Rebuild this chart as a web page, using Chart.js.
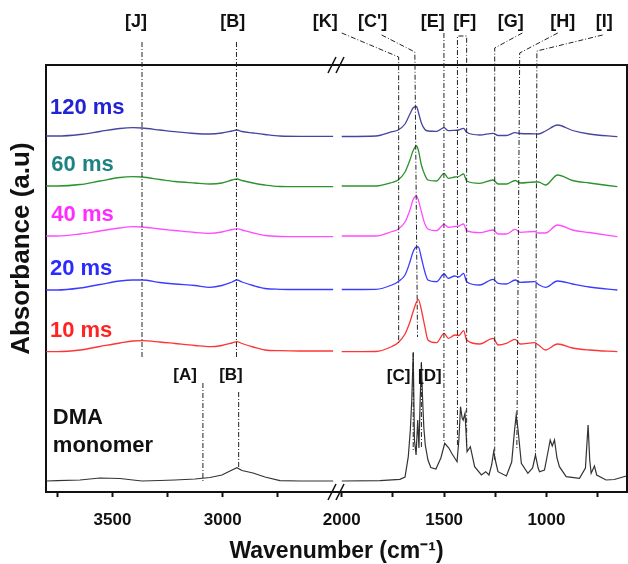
<!DOCTYPE html>
<html>
<head>
<meta charset="utf-8">
<script src="https://cdn.jsdelivr.net/npm/chart.js@4.4.1/dist/chart.umd.min.js"></script>
<style>
  html, body { margin: 0; padding: 0; background: #fff; }
</style>
</head>
<body>
<canvas id="ftir" width="628" height="564"></canvas>
<script>
// wavenumber grids (cm-1), the axis is broken between 2500 and 2000
const wnLeft = [3800, 3750, 3647, 3557, 3466, 3407, 3366, 3285, 3217, 3126, 3058, 3004, 2958, 2936, 2913, 2863, 2809, 2741, 2650, 2500];
const wnRight = [2000, 1833, 1755, 1725, 1691, 1667, 1652, 1635, 1626, 1611, 1594, 1579, 1537, 1500, 1480, 1448, 1428, 1405, 1390, 1326, 1261, 1236, 1196, 1153, 1129, 1058, 1039, 1005, 946, 873, 791, 654];
const wnMonomer = [2000, 1813, 1716, 1691, 1675, 1665, 1658, 1651, 1645, 1637, 1629, 1623, 1617, 1611, 1605, 1599, 1592, 1579, 1565, 1540, 1516, 1497, 1477, 1463, 1437, 1428, 1420, 1412, 1407, 1398, 1388, 1372, 1351, 1318, 1297, 1281, 1268, 1258, 1248, 1237, 1196, 1170, 1156, 1148, 1139, 1123, 1091, 1068, 1054, 1041, 1034, 1010, 993, 982, 972, 961, 949, 937, 904, 839, 810, 797, 789, 782, 766, 755, 709, 669, 610];

// stacked absorbance (a.u), offset spectra as plotted
const abs120Left = [3.56, 3.56, 3.575, 3.605, 3.635, 3.643, 3.64, 3.62, 3.603, 3.585, 3.58, 3.59, 3.61, 3.62, 3.605, 3.59, 3.575, 3.56, 3.557, 3.557];
const abs120Right = [3.555, 3.56, 3.603, 3.62, 3.68, 3.78, 3.84, 3.855, 3.80, 3.69, 3.625, 3.61, 3.607, 3.643, 3.613, 3.617, 3.62, 3.637, 3.597, 3.57, 3.587, 3.565, 3.565, 3.593, 3.585, 3.582, 3.58, 3.61, 3.67, 3.615, 3.58, 3.553];
const abs60Left = [3.06, 3.06, 3.075, 3.11, 3.145, 3.153, 3.15, 3.125, 3.105, 3.09, 3.08, 3.09, 3.12, 3.13, 3.115, 3.09, 3.07, 3.055, 3.053, 3.053];
const abs60Right = [3.06, 3.06, 3.095, 3.12, 3.20, 3.32, 3.41, 3.46, 3.42, 3.27, 3.17, 3.12, 3.11, 3.187, 3.137, 3.15, 3.155, 3.18, 3.11, 3.087, 3.12, 3.08, 3.08, 3.115, 3.09, 3.10, 3.10, 3.07, 3.17, 3.115, 3.09, 3.053];
const abs40Left = [2.56, 2.56, 2.58, 2.61, 2.64, 2.653, 2.65, 2.63, 2.615, 2.595, 2.587, 2.60, 2.625, 2.633, 2.62, 2.59, 2.565, 2.555, 2.553, 2.553];
const abs40Right = [2.56, 2.56, 2.605, 2.627, 2.70, 2.82, 2.92, 2.96, 2.92, 2.803, 2.68, 2.63, 2.613, 2.677, 2.647, 2.655, 2.66, 2.68, 2.613, 2.593, 2.62, 2.58, 2.58, 2.627, 2.597, 2.605, 2.59, 2.59, 2.67, 2.62, 2.595, 2.553];
const abs20Left = [2.02, 2.02, 2.04, 2.075, 2.11, 2.12, 2.12, 2.095, 2.08, 2.065, 2.047, 2.065, 2.10, 2.12, 2.10, 2.065, 2.035, 2.027, 2.025, 2.025];
const abs20Right = [2.025, 2.027, 2.07, 2.103, 2.17, 2.30, 2.40, 2.45, 2.45, 2.34, 2.20, 2.12, 2.103, 2.18, 2.137, 2.16, 2.15, 2.187, 2.103, 2.07, 2.127, 2.087, 2.08, 2.12, 2.097, 2.103, 2.075, 2.047, 2.11, 2.08, 2.05, 2.02];
const abs10Left = [1.403, 1.403, 1.42, 1.455, 1.49, 1.51, 1.513, 1.50, 1.485, 1.465, 1.453, 1.465, 1.49, 1.503, 1.485, 1.45, 1.42, 1.413, 1.41, 1.41];
const abs10Right = [1.403, 1.405, 1.455, 1.493, 1.58, 1.70, 1.80, 1.90, 1.927, 1.82, 1.653, 1.52, 1.493, 1.587, 1.537, 1.57, 1.565, 1.613, 1.52, 1.48, 1.537, 1.47, 1.487, 1.527, 1.48, 1.493, 1.47, 1.42, 1.48, 1.44, 1.42, 1.403];
const monoLeft = [0.11, 0.113, 0.12, 0.14, 0.135, 0.12, 0.11, 0.115, 0.12, 0.13, 0.145, 0.17, 0.22, 0.243, 0.215, 0.19, 0.15, 0.113, 0.11, 0.11];
const monoRight = [0.11, 0.113, 0.127, 0.15, 0.353, 0.62, 0.92, 1.39, 0.52, 0.37, 0.72, 0.44, 0.92, 1.29, 0.92, 0.64, 0.47, 0.32, 0.245, 0.23, 0.34, 0.487, 0.44, 0.387, 0.303, 0.52, 0.853, 0.74, 0.72, 0.787, 0.403, 0.453, 0.253, 0.17, 0.203, 0.17, 0.27, 0.403, 0.30, 0.203, 0.16, 0.30, 0.62, 0.77, 0.62, 0.287, 0.187, 0.24, 0.37, 0.24, 0.203, 0.22, 0.40, 0.52, 0.46, 0.52, 0.34, 0.253, 0.153, 0.137, 0.24, 0.67, 0.32, 0.187, 0.26, 0.17, 0.12, 0.125, 0.16];

const leftTicks = [3750, 3500, 3250, 3000, 2750];
const rightTicks = [2000, 1750, 1500, 1250, 1000, 750];

const FONT = 'Arial, "Liberation Sans", sans-serif';

const series = [
  { name: '120 ms', left: abs120Left, right: abs120Right, line: '#4646a0', text: '#2323d6', at: [3783, 3.84] },
  { name: '60 ms', left: abs60Left, right: abs60Right, line: '#2e922e', text: '#1f8282', at: [3777, 3.275] },
  { name: '40 ms', left: abs40Left, right: abs40Right, line: '#ff4cff', text: '#ff2bff', at: [3777, 2.77] },
  { name: '20 ms', left: abs20Left, right: abs20Right, line: '#3c3cff', text: '#2b2bff', at: [3783, 2.23] },
  { name: '10 ms', left: abs10Left, right: abs10Right, line: '#ff3434', text: '#ff2424', at: [3783, 1.61] }
];

// peak assignments: label position and dash-dot leader path, in (cm-1, a.u)
const marks = [
  { text: '[J]', at: [3393, 4.70], path: [[3366, 4.50], [3366, 1.35]] },
  { text: '[B]', at: [2955, 4.70], path: [[2938, 4.50], [2938, 1.34]] },
  { text: '[K]', at: [2081, 4.70], path: [[2000, 4.59], [1722, 4.35], [1722, 1.49]] },
  { text: "[C']", at: [1849, 4.70], path: [[1805, 4.57], [1643, 4.40], [1630, 1.55]] },
  { text: '[E]', at: [1556, 4.70], path: [[1501, 4.59], [1501, 0.49]] },
  { text: '[F]', at: [1399, 4.70], path: [[1435, 0.47], [1435, 4.56], [1390, 4.56], [1390, 0.45]] },
  { text: '[G]', at: [1175, 4.70], path: [[1118, 4.59], [1253, 4.44], [1253, 0.32]] },
  { text: '[H]', at: [921, 4.70], path: [[945, 4.59], [1131, 4.39], [1145, 0.42]] },
  { text: '[I]', at: [718, 4.70], path: [[726, 4.57], [1047, 4.41], [1054, 0.37]] },
  { text: '[A]', at: [3171, 1.17], path: [[3090, 1.09], [3090, 0.09]] },
  { text: '[B]', at: [2963, 1.17], path: [[2928, 1.00], [2928, 0.24]] },
  { text: '[C]', at: [1722, 1.16], path: [[1651, 1.40], [1651, 0.42]] },
  { text: '[D]', at: [1570, 1.16], path: [[1611, 1.30], [1611, 0.45]] }
];

const pts = (xs, ys) => xs.map((x, i) => ({ x: x, y: ys[i] }));

const datasets = [];
series.forEach(s => {
  const base = { borderColor: s.line, borderWidth: 1.3, pointRadius: 0, cubicInterpolationMode: 'monotone', yAxisID: 'y' };
  datasets.push(Object.assign({ label: s.name, data: pts(wnLeft, s.left), xAxisID: 'x1' }, base));
  datasets.push(Object.assign({ label: s.name, data: pts(wnRight, s.right), xAxisID: 'x2' }, base));
});
const monoBase = { label: 'DMA monomer', borderColor: '#333', borderWidth: 1.2, pointRadius: 0, tension: 0, yAxisID: 'y' };
datasets.push(Object.assign({ data: pts(wnLeft, monoLeft), xAxisID: 'x1' }, monoBase));
datasets.push(Object.assign({ data: pts(wnMonomer, monoRight), xAxisID: 'x2' }, monoBase));

function brokenAxis(min, max, tickVals, weight) {
  return {
    type: 'linear', position: 'bottom', stack: 'wn', stackWeight: weight,
    reverse: true, min: min, max: max,
    afterBuildTicks: s => { s.ticks = tickVals.map(v => ({ value: v })); },
    afterFit: s => { s.paddingLeft = 0; s.paddingRight = 0; s.height = 40; },
    grid: { display: true, drawOnChartArea: false, tickLength: 5, tickWidth: 2, tickColor: '#111' },
    border: { display: true, color: '#111', width: 2 },
    ticks: {
      autoSkip: false, maxRotation: 0, padding: 13, color: '#111',
      font: { family: FONT, size: 17, weight: 'bold' },
      callback: v => (v % 500 === 0 ? String(v) : '')
    }
  };
}

const frame = {
  id: 'frame',
  afterDraw(chart) {
    const { ctx, chartArea: a, scales } = chart;
    ctx.save();
    ctx.strokeStyle = '#111';
    ctx.lineWidth = 2;
    ctx.beginPath();
    ctx.moveTo(a.left, a.top);
    ctx.lineTo(a.right, a.top);
    ctx.lineTo(a.right, a.bottom);
    ctx.stroke();
    // break marks
    const bx = scales.x1.right;
    ctx.lineWidth = 1.5;
    [a.top, a.bottom].forEach(yy => {
      [-4, 4].forEach(dx => {
        ctx.beginPath();
        ctx.moveTo(bx + dx - 4, yy + 8);
        ctx.lineTo(bx + dx + 4, yy - 8);
        ctx.stroke();
      });
    });
    // y axis title, set a little above the plot centre as in the original
    ctx.translate(22, a.top + (a.bottom - a.top) * 0.43);
    ctx.rotate(-Math.PI / 2);
    ctx.textAlign = 'center';
    ctx.textBaseline = 'middle';
    ctx.fillStyle = '#111';
    ctx.font = 'bold 26px ' + FONT;
    ctx.fillText('Absorbance (a.u)', 0, 0);
    ctx.restore();
  }
};

const labels = {
  id: 'labels',
  afterDraw(chart) {
    const { ctx, scales: { x1, x2, y } } = chart;
    const px = w => (w > 2250 ? x1 : x2).getPixelForValue(w);
    ctx.save();
    // dash-dot leaders
    ctx.strokeStyle = '#222';
    ctx.lineWidth = 1;
    ctx.setLineDash([5, 2, 1, 2]);
    marks.forEach(m => {
      ctx.beginPath();
      m.path.forEach((p, i) => {
        const X = px(p[0]), Y = y.getPixelForValue(p[1]);
        if (i === 0) ctx.moveTo(X, Y); else ctx.lineTo(X, Y);
      });
      ctx.stroke();
    });
    ctx.setLineDash([]);
    ctx.textAlign = 'center';
    ctx.textBaseline = 'middle';
    ctx.fillStyle = '#111';
    marks.forEach(m => {
      const size = m.at[1] > y.max ? 18 : 17;
      ctx.font = 'bold ' + size + 'px ' + FONT;
      ctx.fillText(m.text, px(m.at[0]), y.getPixelForValue(m.at[1]));
    });
    // series names
    ctx.textAlign = 'left';
    ctx.font = 'bold 22px ' + FONT;
    series.forEach(s => {
      ctx.fillStyle = s.text;
      ctx.fillText(s.name, px(s.at[0]), y.getPixelForValue(s.at[1]));
    });
    ctx.fillStyle = '#111';
    ctx.fillText('DMA', px(3770), y.getPixelForValue(0.74));
    ctx.fillText('monomer', px(3770), y.getPixelForValue(0.46));
    ctx.restore();
  }
};

new Chart(document.getElementById('ftir'), {
  type: 'line',
  data: { datasets: datasets },
  options: {
    responsive: false,
    animation: false,
    layout: { padding: { top: 65, right: 1, bottom: 0, left: 0 } },
    plugins: { legend: { display: false }, tooltip: { enabled: false } },
    scales: {
      x1: brokenAxis(2487, 3801, leftTicks, 290),
      x2: brokenAxis(607, 2028, rightTicks, 291),
      x3: {
        type: 'linear', position: 'bottom',
        afterFit: s => { s.height = 32; },
        grid: { display: false, drawTicks: false }, border: { display: false }, ticks: { display: false },
        title: {
          display: true, text: 'Wavenumber (cm⁻¹)', color: '#111',
          font: { family: FONT, size: 23, weight: 'bold', lineHeight: 1.1 },
          padding: { top: 4, bottom: 0 }
        }
      },
      y: {
        type: 'linear', position: 'left', min: 0, max: 4.27,
        afterFit: s => { s.width = 46; },
        grid: { display: false, drawTicks: false },
        border: { display: true, color: '#111', width: 2 },
        ticks: { display: false },
        title: { display: false }
      }
    }
  },
  plugins: [frame, labels]
});
</script>
</body>
</html>
